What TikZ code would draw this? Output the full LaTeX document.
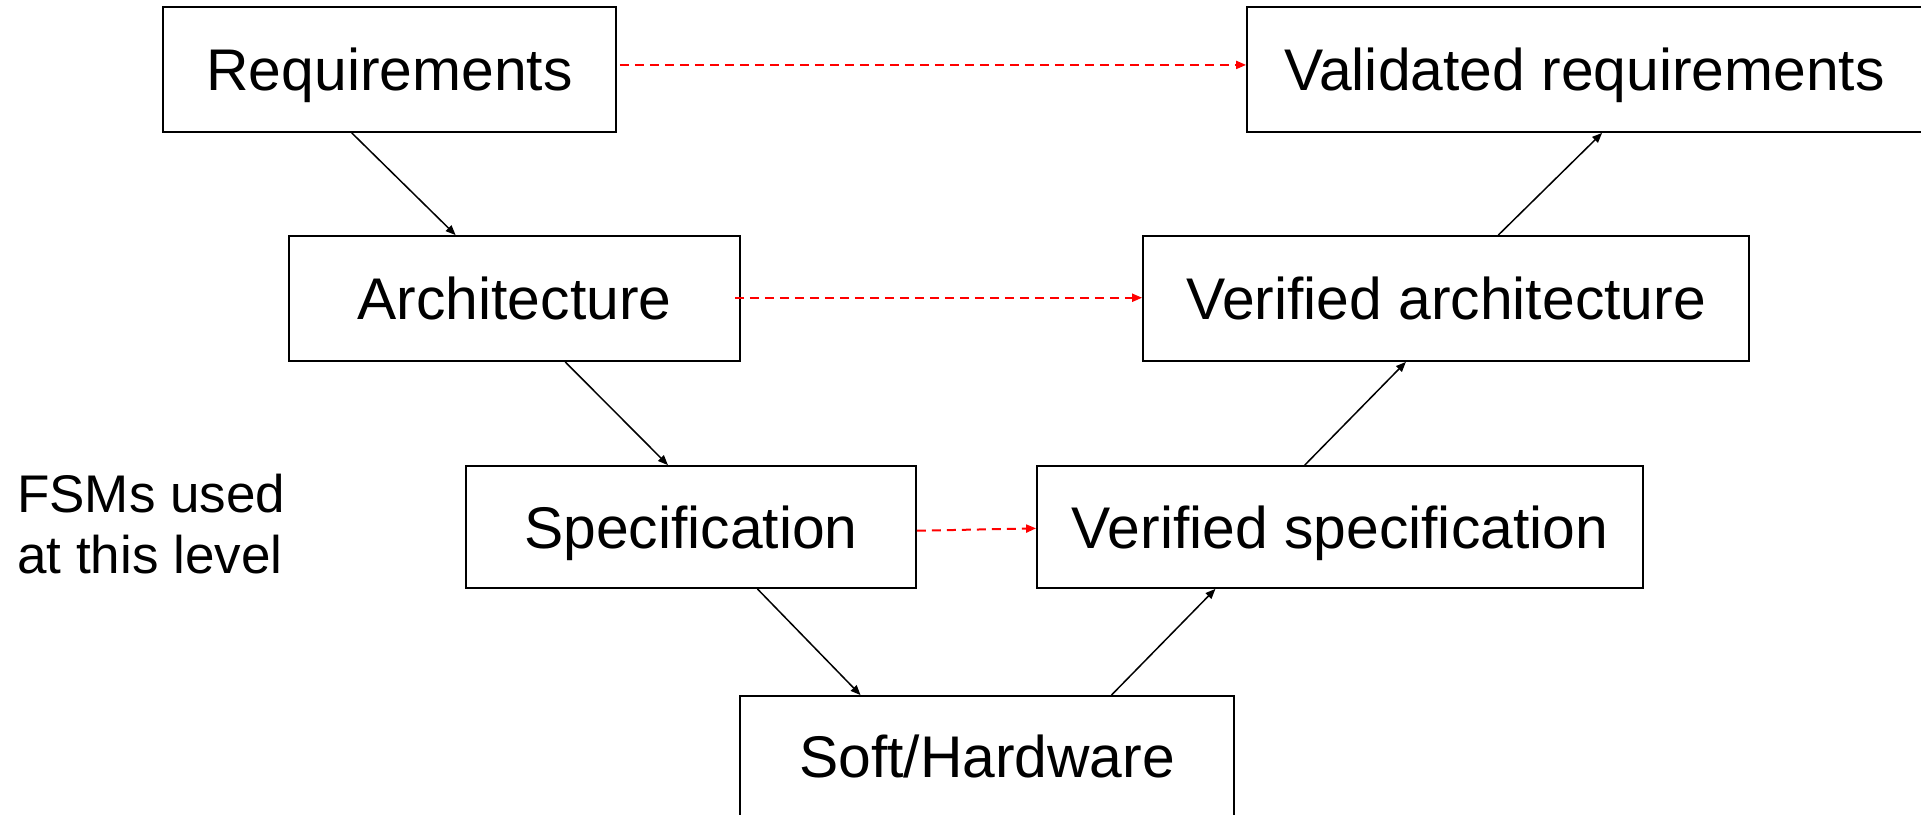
\documentclass[tikz,border=0pt]{standalone}
\usepackage{fontspec}
\setmainfont{Liberation Sans}
\usetikzlibrary{arrows.meta,calc}
\begin{document}
\begin{tikzpicture}[x=1pt,y=-1pt,
  box/.style={draw=black, line width=1.8pt, rectangle, inner sep=0pt,
    font=\fontsize{58.8}{70}\selectfont, text height=42.1pt, text depth=0pt},
  flow/.style={draw=black, line width=1.5pt, -{Triangle[length=10pt,width=8pt]}},
  trace/.style={draw=red, line width=2pt, dash pattern=on 9pt off 6pt,
    -{Triangle[length=10pt,width=8pt]}},
  note/.style={inner sep=0pt, anchor=north west, align=left,
    font=\fontsize{53}{60.7}\selectfont}]
\useasboundingbox (0,0) rectangle (1921,814);

% left branch: design steps
\node[box, minimum width=453pt, minimum height=125pt] (req)  at (389.5,69.5) {Requirements};
\node[box, minimum width=451pt, minimum height=125pt] (arch) at (514.5,298.5) {Architecture};
\node[box, minimum width=450pt, minimum height=122pt] (spec) at (691,527) {Specification};
\node[box, minimum width=494pt, minimum height=120pt] (hw)   at (987,756) {Soft/Hardware};
% right branch: verification steps
\node[box, minimum width=606pt, minimum height=122pt] (vspec) at (1340,527) {Verified specification};
\node[box, minimum width=606pt, minimum height=125pt] (varch) at (1446,298.5) {Verified architecture};
\node[box, minimum width=675pt, minimum height=125pt] (val)   at (1584.5,69.5) {Validated requirements};

\node[note] (fsm) at (17,474) {FSMs used\\at this level};

% descending and ascending flow
\draw[flow] ($(req.south west)!0.417!(req.south east)$) -- ($(arch.north west)!0.370!(arch.north east)$);
\draw[flow] ($(arch.south west)!0.612!(arch.south east)$) -- ($(spec.north west)!0.449!(spec.north east)$);
\draw[flow] ($(spec.south west)!0.647!(spec.south east)$) -- ($(hw.north west)!0.245!(hw.north east)$);
\draw[flow] ($(hw.north west)!0.751!(hw.north east)$) -- ($(vspec.south west)!0.295!(vspec.south east)$);
\draw[flow] ($(vspec.north west)!0.442!(vspec.north east)$) -- ($(varch.south west)!0.434!(varch.south east)$);
\draw[flow] ($(varch.north west)!0.586!(varch.north east)$) -- ($(val.south west)!0.526!(val.south east)$);

% traceability links
\draw[trace] ($(req.north east)!0.464!(req.south east)+(3,0)$) -- ($(val.north west)!0.464!(val.south west)$);
\draw[trace] ($(arch.north east)!0.494!(arch.south east)+(-6,0)$) -- ($(varch.north west)!0.494!(varch.south west)$);
\draw[trace] ($(spec.north east)!0.530!(spec.south east)$) -- ($(vspec.north west)!0.511!(vspec.south west)$);
\end{tikzpicture}
\end{document}
